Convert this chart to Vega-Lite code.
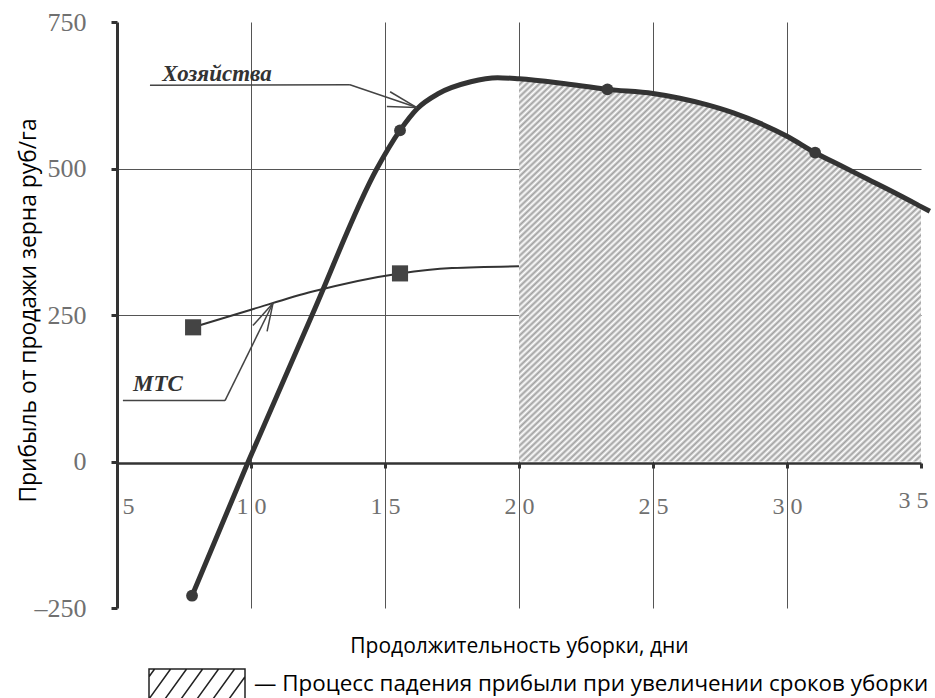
{
  "$schema": "https://vega.github.io/schema/vega-lite/v6.json",
  "width": 804,
  "height": 586,
  "autosize": "none",
  "padding": {"left": 117, "top": 22, "right": 14, "bottom": 90},
  "background": "white",
  "config": {"view": {"stroke": null}},
  "datasets": {
    "farm": [
      {"day": 7.8, "profit": -229},
      {"day": 9.9, "profit": 0},
      {"day": 12.3, "profit": 252},
      {"day": 14.7, "profit": 500},
      {"day": 15.56, "profit": 565},
      {"day": 16.2, "profit": 602},
      {"day": 17.0, "profit": 628},
      {"day": 18.2, "profit": 648},
      {"day": 19.2, "profit": 655},
      {"day": 20, "profit": 653},
      {"day": 21.5, "profit": 646},
      {"day": 23.3, "profit": 635},
      {"day": 25, "profit": 628},
      {"day": 26, "profit": 620},
      {"day": 27, "profit": 609},
      {"day": 28, "profit": 595},
      {"day": 29, "profit": 577},
      {"day": 30, "profit": 555},
      {"day": 31.05, "profit": 527},
      {"day": 32, "profit": 505},
      {"day": 33, "profit": 482},
      {"day": 34, "profit": 459},
      {"day": 35, "profit": 435},
      {"day": 35.33, "profit": 427}
    ],
    "mts": [
      {"day": 7.84, "profit": 229},
      {"day": 10, "profit": 259},
      {"day": 12.3, "profit": 290},
      {"day": 15.56, "profit": 321},
      {"day": 17.5, "profit": 330},
      {"day": 20, "profit": 333}
    ],
    "farmPts": [
      {"day": 7.8, "profit": -229},
      {"day": 15.56, "profit": 565},
      {"day": 23.3, "profit": 635},
      {"day": 31.05, "profit": 527}
    ],
    "mtsPts": [
      {"day": 7.84, "profit": 229},
      {"day": 15.56, "profit": 321}
    ],
    "leaders": [
      {"day": 6.23, "profit": 642, "day2": 13.69, "profit2": 643},
      {"day": 13.69, "profit": 643, "day2": 16.19, "profit2": 604},
      {"day": 15.19, "profit": 631, "day2": 16.19, "profit2": 604},
      {"day": 15.07, "profit": 606, "day2": 16.19, "profit2": 604},
      {"day": 5.22, "profit": 104, "day2": 9.03, "profit2": 104},
      {"day": 9.03, "profit": 104, "day2": 10.82, "profit2": 270},
      {"day": 10.07, "profit": 232, "day2": 10.82, "profit2": 270},
      {"day": 10.6, "profit": 222, "day2": 10.82, "profit2": 270}
    ],
    "labels": [
      {"day": 8.73, "profit": 650, "text": "Хозяйства"},
      {"day": 6.53, "profit": 121, "text": "МТС"}
    ],
    "legend": [
      {"item": "— Процесс падения прибыли при увеличении сроков уборки"}
    ]
  },
  "layer": [
    {
      "data": {"name": "farm"},
      "transform": [{"filter": "datum.day >= 20 && datum.day <= 35"}],
      "mark": {
        "type": "area",
        "interpolate": "monotone",
        "fill": {
          "gradient": "linear", "x1": 0, "y1": 0, "x2": 1, "y2": 1,
          "stops": [
            {"offset":0.000,"color":"#a0a0a0"},{"offset":0.004,"color":"#fff"},{"offset":0.008,"color":"#a0a0a0"},{"offset":0.012,"color":"#fff"},{"offset":0.016,"color":"#a0a0a0"},{"offset":0.020,"color":"#fff"},{"offset":0.024,"color":"#a0a0a0"},{"offset":0.028,"color":"#fff"},{"offset":0.032,"color":"#a0a0a0"},{"offset":0.036,"color":"#fff"},{"offset":0.040,"color":"#a0a0a0"},{"offset":0.044,"color":"#fff"},{"offset":0.048,"color":"#a0a0a0"},{"offset":0.052,"color":"#fff"},{"offset":0.056,"color":"#a0a0a0"},{"offset":0.060,"color":"#fff"},{"offset":0.064,"color":"#a0a0a0"},{"offset":0.068,"color":"#fff"},{"offset":0.072,"color":"#a0a0a0"},{"offset":0.076,"color":"#fff"},{"offset":0.080,"color":"#a0a0a0"},{"offset":0.084,"color":"#fff"},{"offset":0.088,"color":"#a0a0a0"},{"offset":0.092,"color":"#fff"},{"offset":0.096,"color":"#a0a0a0"},
            {"offset":0.100,"color":"#fff"},{"offset":0.104,"color":"#a0a0a0"},{"offset":0.108,"color":"#fff"},{"offset":0.112,"color":"#a0a0a0"},{"offset":0.116,"color":"#fff"},{"offset":0.120,"color":"#a0a0a0"},{"offset":0.124,"color":"#fff"},{"offset":0.128,"color":"#a0a0a0"},{"offset":0.132,"color":"#fff"},{"offset":0.136,"color":"#a0a0a0"},{"offset":0.140,"color":"#fff"},{"offset":0.144,"color":"#a0a0a0"},{"offset":0.148,"color":"#fff"},{"offset":0.152,"color":"#a0a0a0"},{"offset":0.156,"color":"#fff"},{"offset":0.160,"color":"#a0a0a0"},{"offset":0.164,"color":"#fff"},{"offset":0.168,"color":"#a0a0a0"},{"offset":0.172,"color":"#fff"},{"offset":0.176,"color":"#a0a0a0"},{"offset":0.180,"color":"#fff"},{"offset":0.184,"color":"#a0a0a0"},{"offset":0.188,"color":"#fff"},{"offset":0.192,"color":"#a0a0a0"},{"offset":0.196,"color":"#fff"},
            {"offset":0.200,"color":"#a0a0a0"},{"offset":0.204,"color":"#fff"},{"offset":0.208,"color":"#a0a0a0"},{"offset":0.212,"color":"#fff"},{"offset":0.216,"color":"#a0a0a0"},{"offset":0.220,"color":"#fff"},{"offset":0.224,"color":"#a0a0a0"},{"offset":0.228,"color":"#fff"},{"offset":0.232,"color":"#a0a0a0"},{"offset":0.236,"color":"#fff"},{"offset":0.240,"color":"#a0a0a0"},{"offset":0.244,"color":"#fff"},{"offset":0.248,"color":"#a0a0a0"},{"offset":0.252,"color":"#fff"},{"offset":0.256,"color":"#a0a0a0"},{"offset":0.260,"color":"#fff"},{"offset":0.264,"color":"#a0a0a0"},{"offset":0.268,"color":"#fff"},{"offset":0.272,"color":"#a0a0a0"},{"offset":0.276,"color":"#fff"},{"offset":0.280,"color":"#a0a0a0"},{"offset":0.284,"color":"#fff"},{"offset":0.288,"color":"#a0a0a0"},{"offset":0.292,"color":"#fff"},{"offset":0.296,"color":"#a0a0a0"},
            {"offset":0.300,"color":"#fff"},{"offset":0.304,"color":"#a0a0a0"},{"offset":0.308,"color":"#fff"},{"offset":0.312,"color":"#a0a0a0"},{"offset":0.316,"color":"#fff"},{"offset":0.320,"color":"#a0a0a0"},{"offset":0.324,"color":"#fff"},{"offset":0.328,"color":"#a0a0a0"},{"offset":0.332,"color":"#fff"},{"offset":0.336,"color":"#a0a0a0"},{"offset":0.340,"color":"#fff"},{"offset":0.344,"color":"#a0a0a0"},{"offset":0.348,"color":"#fff"},{"offset":0.352,"color":"#a0a0a0"},{"offset":0.356,"color":"#fff"},{"offset":0.360,"color":"#a0a0a0"},{"offset":0.364,"color":"#fff"},{"offset":0.368,"color":"#a0a0a0"},{"offset":0.372,"color":"#fff"},{"offset":0.376,"color":"#a0a0a0"},{"offset":0.380,"color":"#fff"},{"offset":0.384,"color":"#a0a0a0"},{"offset":0.388,"color":"#fff"},{"offset":0.392,"color":"#a0a0a0"},{"offset":0.396,"color":"#fff"},
            {"offset":0.400,"color":"#a0a0a0"},{"offset":0.404,"color":"#fff"},{"offset":0.408,"color":"#a0a0a0"},{"offset":0.412,"color":"#fff"},{"offset":0.416,"color":"#a0a0a0"},{"offset":0.420,"color":"#fff"},{"offset":0.424,"color":"#a0a0a0"},{"offset":0.428,"color":"#fff"},{"offset":0.432,"color":"#a0a0a0"},{"offset":0.436,"color":"#fff"},{"offset":0.440,"color":"#a0a0a0"},{"offset":0.444,"color":"#fff"},{"offset":0.448,"color":"#a0a0a0"},{"offset":0.452,"color":"#fff"},{"offset":0.456,"color":"#a0a0a0"},{"offset":0.460,"color":"#fff"},{"offset":0.464,"color":"#a0a0a0"},{"offset":0.468,"color":"#fff"},{"offset":0.472,"color":"#a0a0a0"},{"offset":0.476,"color":"#fff"},{"offset":0.480,"color":"#a0a0a0"},{"offset":0.484,"color":"#fff"},{"offset":0.488,"color":"#a0a0a0"},{"offset":0.492,"color":"#fff"},{"offset":0.496,"color":"#a0a0a0"},
            {"offset":0.500,"color":"#fff"},{"offset":0.504,"color":"#a0a0a0"},{"offset":0.508,"color":"#fff"},{"offset":0.512,"color":"#a0a0a0"},{"offset":0.516,"color":"#fff"},{"offset":0.520,"color":"#a0a0a0"},{"offset":0.524,"color":"#fff"},{"offset":0.528,"color":"#a0a0a0"},{"offset":0.532,"color":"#fff"},{"offset":0.536,"color":"#a0a0a0"},{"offset":0.540,"color":"#fff"},{"offset":0.544,"color":"#a0a0a0"},{"offset":0.548,"color":"#fff"},{"offset":0.552,"color":"#a0a0a0"},{"offset":0.556,"color":"#fff"},{"offset":0.560,"color":"#a0a0a0"},{"offset":0.564,"color":"#fff"},{"offset":0.568,"color":"#a0a0a0"},{"offset":0.572,"color":"#fff"},{"offset":0.576,"color":"#a0a0a0"},{"offset":0.580,"color":"#fff"},{"offset":0.584,"color":"#a0a0a0"},{"offset":0.588,"color":"#fff"},{"offset":0.592,"color":"#a0a0a0"},{"offset":0.596,"color":"#fff"},
            {"offset":0.600,"color":"#a0a0a0"},{"offset":0.604,"color":"#fff"},{"offset":0.608,"color":"#a0a0a0"},{"offset":0.612,"color":"#fff"},{"offset":0.616,"color":"#a0a0a0"},{"offset":0.620,"color":"#fff"},{"offset":0.624,"color":"#a0a0a0"},{"offset":0.628,"color":"#fff"},{"offset":0.632,"color":"#a0a0a0"},{"offset":0.636,"color":"#fff"},{"offset":0.640,"color":"#a0a0a0"},{"offset":0.644,"color":"#fff"},{"offset":0.648,"color":"#a0a0a0"},{"offset":0.652,"color":"#fff"},{"offset":0.656,"color":"#a0a0a0"},{"offset":0.660,"color":"#fff"},{"offset":0.664,"color":"#a0a0a0"},{"offset":0.668,"color":"#fff"},{"offset":0.672,"color":"#a0a0a0"},{"offset":0.676,"color":"#fff"},{"offset":0.680,"color":"#a0a0a0"},{"offset":0.684,"color":"#fff"},{"offset":0.688,"color":"#a0a0a0"},{"offset":0.692,"color":"#fff"},{"offset":0.696,"color":"#a0a0a0"},
            {"offset":0.700,"color":"#fff"},{"offset":0.704,"color":"#a0a0a0"},{"offset":0.708,"color":"#fff"},{"offset":0.712,"color":"#a0a0a0"},{"offset":0.716,"color":"#fff"},{"offset":0.720,"color":"#a0a0a0"},{"offset":0.724,"color":"#fff"},{"offset":0.728,"color":"#a0a0a0"},{"offset":0.732,"color":"#fff"},{"offset":0.736,"color":"#a0a0a0"},{"offset":0.740,"color":"#fff"},{"offset":0.744,"color":"#a0a0a0"},{"offset":0.748,"color":"#fff"},{"offset":0.752,"color":"#a0a0a0"},{"offset":0.756,"color":"#fff"},{"offset":0.760,"color":"#a0a0a0"},{"offset":0.764,"color":"#fff"},{"offset":0.768,"color":"#a0a0a0"},{"offset":0.772,"color":"#fff"},{"offset":0.776,"color":"#a0a0a0"},{"offset":0.780,"color":"#fff"},{"offset":0.784,"color":"#a0a0a0"},{"offset":0.788,"color":"#fff"},{"offset":0.792,"color":"#a0a0a0"},{"offset":0.796,"color":"#fff"},
            {"offset":0.800,"color":"#a0a0a0"},{"offset":0.804,"color":"#fff"},{"offset":0.808,"color":"#a0a0a0"},{"offset":0.812,"color":"#fff"},{"offset":0.816,"color":"#a0a0a0"},{"offset":0.820,"color":"#fff"},{"offset":0.824,"color":"#a0a0a0"},{"offset":0.828,"color":"#fff"},{"offset":0.832,"color":"#a0a0a0"},{"offset":0.836,"color":"#fff"},{"offset":0.840,"color":"#a0a0a0"},{"offset":0.844,"color":"#fff"},{"offset":0.848,"color":"#a0a0a0"},{"offset":0.852,"color":"#fff"},{"offset":0.856,"color":"#a0a0a0"},{"offset":0.860,"color":"#fff"},{"offset":0.864,"color":"#a0a0a0"},{"offset":0.868,"color":"#fff"},{"offset":0.872,"color":"#a0a0a0"},{"offset":0.876,"color":"#fff"},{"offset":0.880,"color":"#a0a0a0"},{"offset":0.884,"color":"#fff"},{"offset":0.888,"color":"#a0a0a0"},{"offset":0.892,"color":"#fff"},{"offset":0.896,"color":"#a0a0a0"},
            {"offset":0.900,"color":"#fff"},{"offset":0.904,"color":"#a0a0a0"},{"offset":0.908,"color":"#fff"},{"offset":0.912,"color":"#a0a0a0"},{"offset":0.916,"color":"#fff"},{"offset":0.920,"color":"#a0a0a0"},{"offset":0.924,"color":"#fff"},{"offset":0.928,"color":"#a0a0a0"},{"offset":0.932,"color":"#fff"},{"offset":0.936,"color":"#a0a0a0"},{"offset":0.940,"color":"#fff"},{"offset":0.944,"color":"#a0a0a0"},{"offset":0.948,"color":"#fff"},{"offset":0.952,"color":"#a0a0a0"},{"offset":0.956,"color":"#fff"},{"offset":0.960,"color":"#a0a0a0"},{"offset":0.964,"color":"#fff"},{"offset":0.968,"color":"#a0a0a0"},{"offset":0.972,"color":"#fff"},{"offset":0.976,"color":"#a0a0a0"},{"offset":0.980,"color":"#fff"},{"offset":0.984,"color":"#a0a0a0"},{"offset":0.988,"color":"#fff"},{"offset":0.992,"color":"#a0a0a0"},{"offset":0.996,"color":"#fff"},
            {"offset":1.000,"color":"#a0a0a0"}
          ]
        }
      },
      "encoding": {
        "x": {
          "field": "day", "type": "quantitative",
          "scale": {"domain": [5, 35], "nice": false, "zero": false},
          "axis": {
            "title": "Продолжительность уборки, дни",
            "offset": -145,
            "values": [5, 10, 15, 20, 25, 30, 35],
            "labelExpr": "datum.value == 5 ? '5' : slice(datum.label, 0, 1) + ' ' + slice(datum.label, 1)",
            "labelFont": "Liberation Serif", "labelFontSize": 24, "labelColor": "#707070",
            "labelAlign": {"condition": {"test": "datum.value == 5", "value": "left"}, "value": "center"},
            "labelOffset": {"condition": [{"test": "datum.value == 5", "value": 5}, {"test": "datum.value == 35", "value": -8}], "value": 0},
            "labelPadding": {"condition": {"test": "datum.value == 35", "value": 20}, "value": 26},
            "labelFlush": false, "labelOverlap": false,
            "tickSize": 5, "tickWidth": 3, "tickColor": "#333",
            "domainColor": "#333", "domainWidth": 2.5,
            "grid": true, "gridColor": "#555", "gridWidth": 1,
            "gridOpacity": {"condition": {"test": "datum.value > 5 && datum.value < 35", "value": 1}, "value": 0},
            "titleFont": "Open Sans", "titleFontSize": 21, "titleFontWeight": "normal", "titleColor": "#000",
            "titleBaseline": "middle", "titleY": 183
          }
        },
        "y": {
          "field": "profit", "type": "quantitative",
          "scale": {"domain": [-250, 750], "nice": false},
          "stack": null,
          "axis": {
            "title": "Прибыль от продажи зерна руб/га",
            "values": [-250, 0, 250, 500, 750],
            "labelExpr": "datum.value < 0 ? '–' + format(abs(datum.value), 'd') : datum.label",
            "labelFont": "Liberation Serif", "labelFontSize": 26, "labelColor": "#707070",
            "labelPadding": 25,
            "tickSize": 6, "tickWidth": 3, "tickColor": "#333",
            "domainColor": "#333", "domainWidth": 3,
            "grid": true, "gridColor": "#555", "gridWidth": 1,
            "gridOpacity": {"condition": {"test": "datum.value == 250 || datum.value == 500", "value": 1}, "value": 0},
            "titleFont": "Open Sans", "titleFontSize": 22.8, "titleFontWeight": "normal", "titleColor": "#000",
            "titleBaseline": "middle", "titleX": -89, "titleY": 288
          }
        },
        "y2": {"datum": 0}
      }
    },
    {
      "mark": {"type": "rule", "color": "#555", "strokeWidth": 1.5},
      "encoding": {"x": {"datum": 20}, "y": {"datum": 0}, "y2": {"datum": 653}}
    },
    {
      "mark": {"type": "rule", "color": "#333", "strokeWidth": 2.5},
      "encoding": {"y": {"datum": 0}}
    },
    {
      "data": {"name": "farm"},
      "mark": {"type": "line", "interpolate": "monotone", "color": "#333", "strokeWidth": 5},
      "encoding": {
        "x": {"field": "day", "type": "quantitative"},
        "y": {"field": "profit", "type": "quantitative"}
      }
    },
    {
      "data": {"name": "mts"},
      "mark": {"type": "line", "interpolate": "monotone", "color": "#333", "strokeWidth": 2},
      "encoding": {
        "x": {"field": "day", "type": "quantitative"},
        "y": {"field": "profit", "type": "quantitative"}
      }
    },
    {
      "data": {"name": "farmPts"},
      "mark": {"type": "point", "shape": "circle", "filled": true, "size": 140, "color": "#3a3a3a", "opacity": 1},
      "encoding": {
        "x": {"field": "day", "type": "quantitative"},
        "y": {"field": "profit", "type": "quantitative"}
      }
    },
    {
      "data": {"name": "mtsPts"},
      "mark": {"type": "point", "shape": "square", "filled": true, "size": 260, "color": "#444", "opacity": 1},
      "encoding": {
        "x": {"field": "day", "type": "quantitative"},
        "y": {"field": "profit", "type": "quantitative"}
      }
    },
    {
      "data": {"name": "leaders"},
      "mark": {"type": "rule", "color": "#444", "strokeWidth": 1.5},
      "encoding": {
        "x": {"field": "day", "type": "quantitative"},
        "y": {"field": "profit", "type": "quantitative"},
        "x2": {"field": "day2"},
        "y2": {"field": "profit2"}
      }
    },
    {
      "data": {"name": "labels"},
      "mark": {"type": "text", "font": "Liberation Serif", "fontSize": 23, "fontStyle": "italic", "fontWeight": "bold", "color": "#333", "align": "center", "baseline": "alphabetic"},
      "encoding": {
        "x": {"field": "day", "type": "quantitative"},
        "y": {"field": "profit", "type": "quantitative"},
        "text": {"field": "text"}
      }
    },
    {
      "data": {"name": "legend"},
      "mark": {"type": "point", "opacity": 0},
      "encoding": {
        "shape": {
          "field": "item", "type": "nominal",
          "scale": {"range": ["M-1,-0.3125H1V0.3125H-1Z M-1,0.3125L-0.55,-0.3125 M-0.667,0.3125L-0.217,-0.3125 M-0.333,0.3125L0.117,-0.3125 M0,0.3125L0.45,-0.3125 M0.333,0.3125L0.783,-0.3125 M0.667,0.3125L1,-0.15 M-1,-0.15L-0.883,-0.3125"]},
          "legend": {
            "title": null, "orient": "none", "legendX": 31, "legendY": 613,
            "symbolSize": 9216, "symbolStrokeColor": "#222", "symbolStrokeWidth": 1.5,
            "symbolFillColor": "white", "symbolOpacity": 1,
            "labelFont": "Open Sans", "labelFontSize": 22.4, "labelColor": "#000",
            "labelLimit": 0, "labelOffset": 8, "padding": 0
          }
        }
      }
    }
  ]
}
